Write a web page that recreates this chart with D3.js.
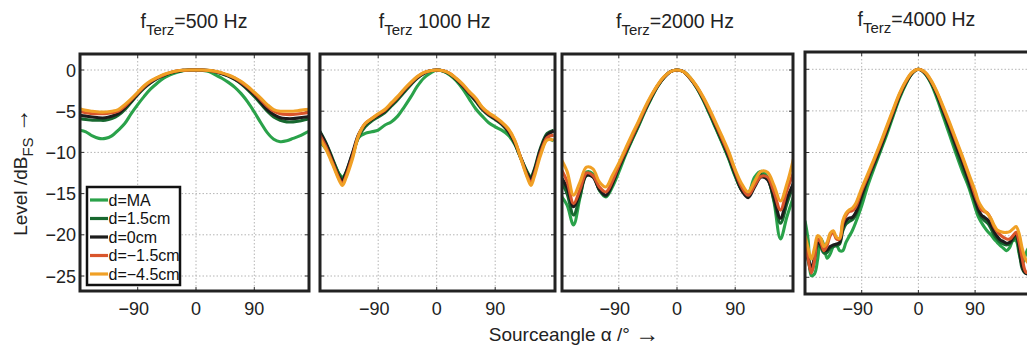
<!DOCTYPE html>
<html>
<head>
<meta charset="utf-8">
<style>
    body { margin: 0; background: #fff; }
    svg { display: block; font-family: "Liberation Sans", Arial, sans-serif; }
    .grid line { stroke: #b4b4b4; stroke-width: 1; stroke-dasharray: 1.5 2; }
    .frame { fill: none; stroke: #222; stroke-width: 3; }
    .tick-mark { stroke: #333; stroke-width: 1; }
    .tick-label { font-size: 18px; fill: #222; }
    .title { font-size: 19.5px; fill: #222; }
    .axis-title { font-size: 19px; fill: #222; }
    .legend text { font-size: 16px; fill: #111; }
</style>
</head>
<body>
<svg width="1027" height="350"></svg>
<script src="https://d3js.org/d3.v7.min.js"></script>
<script>
// ---------- data ----------
const seriesNames = ["d=MA", "d=1.5cm", "d=0cm", "d=\u22121.5cm", "d=\u22124.5cm"];
const xTicks = [-90, 0, 90];
const yTicks = [0, -5, -10, -15, -20, -25];

// 500 Hz
const angles500 = [-180,-170,-160,-150,-140,-130,-120,-110,-100,-90,-80,-70,-60,-50,-40,-30,-20,-10,0,
                   10,20,30,40,50,60,70,80,90,100,110,120,130,140,150,160,170,180];
const lev500MA  = [-7.3,-7.5,-8.0,-8.3,-8.3,-8.0,-7.3,-6.5,-5.3,-4.2,-3.2,-2.3,-1.6,-1.0,-0.6,-0.3,-0.1,0,0,
                   -0.05,-0.2,-0.6,-1.0,-1.5,-2.1,-2.9,-3.9,-5.1,-6.4,-7.6,-8.4,-8.7,-8.6,-8.3,-8.0,-7.6,-7.3];
const lev500P15 = [-5.9,-6.0,-6.1,-6.1,-6.1,-5.9,-5.5,-4.8,-3.9,-3.0,-2.2,-1.55,-1.05,-0.7,-0.4,-0.17,-0.05,0,0,
                   0,-0.08,-0.22,-0.45,-0.75,-1.15,-1.7,-2.4,-3.2,-4.1,-5.0,-5.7,-6.1,-6.3,-6.3,-6.2,-6.0,-5.9];
const lev500D0  = [-5.5,-5.6,-5.7,-5.8,-5.8,-5.6,-5.3,-4.6,-3.8,-2.9,-2.1,-1.5,-1.0,-0.65,-0.35,-0.15,-0.05,0,0,
                   0,-0.07,-0.2,-0.42,-0.7,-1.1,-1.6,-2.3,-3.0,-3.9,-4.8,-5.4,-5.8,-5.9,-5.9,-5.8,-5.7,-5.6];
const lev500M15 = [-5.0,-5.2,-5.3,-5.3,-5.3,-5.2,-5.0,-4.4,-3.6,-2.8,-2.0,-1.4,-0.95,-0.6,-0.32,-0.13,-0.04,0,0,
                   0,-0.06,-0.17,-0.38,-0.65,-1.0,-1.5,-2.1,-2.8,-3.6,-4.4,-5.0,-5.3,-5.4,-5.4,-5.3,-5.2,-5.1];
const lev500M45 = [-4.7,-4.9,-5.0,-5.1,-5.1,-5.0,-4.8,-4.2,-3.5,-2.7,-1.9,-1.3,-0.9,-0.55,-0.3,-0.12,-0.03,0,0,
                   0,-0.05,-0.15,-0.35,-0.6,-0.95,-1.4,-2.0,-2.7,-3.4,-4.2,-4.8,-5.0,-5.0,-5.0,-4.9,-4.8,-4.7];

// 1000 Hz
const angles1000 = [-180,-170,-160,-150,-145,-140,-130,-120,-110,-100,-90,-80,-70,-60,-50,-40,-30,-20,-10,0,
                    10,20,30,40,50,60,70,80,90,100,110,120,130,140,145,150,160,170,180];
const lev1000MA  = [-8.7,-9.6,-11.0,-12.6,-13.0,-12.6,-10.6,-8.2,-7.7,-7.5,-7.3,-6.7,-6.3,-5.6,-4.5,-3.3,-2.0,-1.0,-0.4,0,
                    -0.15,-0.6,-1.3,-2.3,-3.5,-4.7,-5.6,-6.4,-6.9,-7.3,-7.9,-9.0,-10.8,-12.5,-13.0,-12.3,-10.0,-8.4,-8.6];
const lev1000P15 = [-7.4,-8.9,-10.8,-12.7,-13.2,-12.5,-10.3,-8.1,-6.9,-6.2,-5.7,-5.2,-4.4,-3.6,-2.7,-1.8,-1.0,-0.45,-0.1,0,
                    -0.12,-0.5,-1.2,-2.0,-2.9,-3.8,-4.8,-5.5,-6.0,-6.6,-7.5,-8.9,-10.8,-12.5,-13.0,-12.1,-9.4,-7.7,-7.3];
const lev1000D0  = [-7.5,-9.0,-11.0,-13.0,-13.4,-12.6,-10.2,-7.8,-6.6,-6.0,-5.5,-5.0,-4.2,-3.4,-2.5,-1.7,-0.95,-0.4,-0.1,0,
                    -0.1,-0.45,-1.1,-1.9,-2.8,-3.7,-4.7,-5.4,-5.9,-6.5,-7.4,-8.8,-10.8,-12.7,-13.2,-12.3,-9.6,-7.9,-7.4];
const lev1000M15 = [-7.9,-9.4,-11.3,-13.2,-13.8,-13.0,-10.6,-7.9,-6.5,-5.9,-5.4,-4.9,-4.1,-3.3,-2.4,-1.6,-0.85,-0.35,-0.1,0,
                    -0.1,-0.4,-1.05,-1.8,-2.7,-3.5,-4.6,-5.3,-5.8,-6.4,-7.2,-8.6,-10.8,-13.0,-13.7,-12.7,-10.0,-8.2,-7.9];
const lev1000M45 = [-8.3,-9.7,-11.5,-13.4,-14.0,-13.2,-10.9,-7.9,-6.5,-5.9,-5.3,-4.8,-4.0,-3.2,-2.3,-1.5,-0.8,-0.3,-0.1,0,
                    -0.1,-0.4,-1.0,-1.7,-2.6,-3.4,-4.5,-5.2,-5.7,-6.3,-7.1,-8.5,-10.9,-13.2,-14.0,-13.0,-10.3,-8.5,-8.5];

// 2000 Hz
const angles2000 = [-180,-170,-160,-150,-140,-130,-120,-110,-100,-90,-80,-70,-60,-50,-40,-30,-20,-10,0,
                    10,20,30,40,50,60,70,80,90,100,110,120,130,140,150,160,170,180];
const lev2000MA  = [-15.2,-16.4,-18.8,-15.5,-12.4,-12.6,-14.6,-15.4,-14.2,-12.4,-10.4,-8.6,-6.9,-5.1,-3.5,-2.0,-0.9,-0.2,0,
                    -0.2,-0.9,-2.1,-3.6,-5.3,-7.1,-8.9,-10.8,-12.9,-14.5,-14.9,-13.0,-12.3,-13.0,-16.0,-20.5,-17.8,-15.4];
const lev2000P15 = [-13.4,-15.0,-17.6,-15.3,-12.8,-12.9,-14.5,-15.3,-13.9,-12.0,-10.2,-8.5,-6.8,-5.0,-3.4,-2.0,-0.9,-0.2,0,
                    -0.2,-1.0,-2.1,-3.5,-5.2,-7.0,-8.8,-10.7,-12.8,-14.6,-15.3,-13.6,-12.7,-13.2,-15.8,-18.6,-16.2,-13.8];
const lev2000D0  = [-12.9,-14.3,-16.6,-14.8,-12.8,-13.0,-14.5,-15.2,-13.8,-11.8,-10.1,-8.3,-6.6,-4.9,-3.3,-1.9,-0.9,-0.2,0,
                    -0.2,-1.0,-2.0,-3.4,-5.0,-6.8,-8.6,-10.5,-12.6,-14.6,-15.5,-14.2,-13.0,-13.3,-15.5,-18.0,-15.6,-13.8];
const lev2000M15 = [-11.9,-13.5,-16.2,-14.5,-12.5,-12.8,-14.2,-14.8,-13.5,-11.6,-9.9,-8.2,-6.5,-4.8,-3.2,-1.9,-0.85,-0.2,0,
                    -0.2,-0.95,-2.0,-3.3,-4.9,-6.6,-8.4,-10.2,-12.3,-14.2,-15.2,-14.0,-12.9,-13.0,-14.8,-17.0,-14.6,-12.5];
const lev2000M45 = [-10.7,-12.3,-15.2,-13.6,-11.8,-12.0,-13.6,-14.2,-12.8,-11.3,-9.6,-7.9,-6.3,-4.6,-3.1,-1.8,-0.8,-0.2,0,
                    -0.2,-0.9,-1.9,-3.2,-4.7,-6.4,-8.1,-9.9,-12.1,-13.8,-14.8,-13.5,-12.3,-12.4,-14.0,-15.9,-13.8,-10.8];

// 4000 Hz
const angles4000 = [-180,-175,-170,-165,-160,-155,-150,-145,-140,-135,-130,-125,-120,-115,-110,-105,-100,
                    -90,-80,-70,-60,-50,-40,-30,-20,-10,0,10,20,30,40,50,60,70,80,
                    90,95,100,105,110,115,120,125,130,135,140,145,150,155,160,165,170,175,180];
const lev4000MA  = [-18.2,-20.5,-24.8,-24.6,-22.9,-20.3,-21.2,-22.7,-22.2,-21.3,-21.1,-21.8,-21.8,-20.8,-20.1,-19.4,-18.5,
                    -16.4,-13.9,-11.8,-9.8,-7.8,-5.6,-3.5,-1.8,-0.5,0,-0.5,-1.7,-3.6,-5.8,-8.0,-10.2,-12.3,-14.2,
                    -16.6,-17.7,-18.4,-19.0,-19.5,-19.9,-20.4,-20.8,-21.2,-21.5,-21.8,-21.4,-20.6,-20.6,-22.2,-23.4,-22.3,-21.5,-21.8];
const lev4000P15 = [-21.5,-23.0,-24.4,-23.0,-21.2,-21.4,-22.1,-22.0,-21.5,-21.3,-21.2,-21.0,-19.4,-18.6,-18.3,-18.1,-17.6,
                    -15.5,-13.3,-11.5,-9.6,-7.5,-5.4,-3.3,-1.7,-0.5,0,-0.45,-1.6,-3.3,-5.4,-7.5,-9.7,-11.8,-13.8,
                    -16.0,-17.1,-17.8,-18.2,-18.5,-19.1,-19.9,-20.4,-20.8,-21.0,-21.1,-21.0,-20.5,-20.2,-21.9,-24.0,-24.5,-24.3,-24.0];
const lev4000D0  = [-21.2,-22.6,-23.9,-22.6,-20.9,-21.1,-21.8,-21.7,-21.3,-21.1,-21.0,-20.8,-19.0,-18.2,-17.9,-17.8,-17.3,
                    -15.1,-13.0,-11.2,-9.3,-7.3,-5.2,-3.2,-1.6,-0.45,0,-0.4,-1.5,-3.1,-5.1,-7.1,-9.2,-11.2,-13.4,
                    -15.7,-16.8,-17.5,-17.8,-18.1,-18.7,-19.5,-20.1,-20.5,-20.7,-20.9,-20.8,-20.2,-19.8,-21.5,-23.7,-24.5,-24.6,-24.5];
const lev4000M15 = [-20.8,-22.8,-24.5,-23.0,-20.4,-20.8,-21.8,-21.2,-20.0,-19.6,-20.4,-20.4,-18.5,-17.6,-17.1,-17.0,-16.6,
                    -14.6,-12.8,-10.9,-9.0,-7.0,-5.0,-3.0,-1.5,-0.4,0,-0.35,-1.4,-2.9,-4.8,-6.7,-8.7,-10.7,-12.8,
                    -15.1,-16.1,-16.9,-17.1,-17.3,-18.0,-18.9,-19.5,-19.9,-20.2,-20.4,-20.4,-20.0,-19.6,-20.8,-22.8,-24.3,-24.5,-24.4];
const lev4000M45 = [-20.0,-21.5,-22.8,-21.5,-20.0,-20.3,-21.3,-20.8,-19.7,-19.4,-20.2,-20.3,-18.2,-17.3,-16.9,-16.7,-16.2,
                    -14.3,-12.5,-10.7,-8.8,-6.8,-4.8,-2.9,-1.4,-0.35,0,-0.3,-1.3,-2.8,-4.6,-6.5,-8.5,-10.5,-12.6,
                    -14.6,-15.8,-16.5,-17.0,-17.4,-17.9,-18.7,-19.3,-19.5,-19.6,-19.6,-19.5,-19.2,-18.9,-19.8,-21.6,-22.8,-23.3,-23.2];

// ---------- styles / layout ----------
const colors = ["#2aa24a", "#17682f", "#1c1c1c", "#d9552b", "#f0a025"];

const panels = [
    { pre: "f", sub: "Terz", post: "=500 Hz",  angles: angles500,  levels: [lev500MA, lev500P15, lev500D0, lev500M15, lev500M45],
      left: 80, right: 309, top: 54, bottom: 291, x0: 196, d90: 58.3, y0: 70, y25: 276, titleY: 28 },
    { pre: "f", sub: "Terz", post: " 1000 Hz", angles: angles1000, levels: [lev1000MA, lev1000P15, lev1000D0, lev1000M15, lev1000M45],
      left: 320, right: 555, top: 54, bottom: 291, x0: 436.7, d90: 58.5, y0: 70, y25: 276, titleY: 28 },
    { pre: "f", sub: "Terz", post: "=2000 Hz", angles: angles2000, levels: [lev2000MA, lev2000P15, lev2000D0, lev2000M15, lev2000M45],
      left: 562, right: 793, top: 54, bottom: 291, x0: 677, d90: 58.2, y0: 70, y25: 276, titleY: 28 },
    { pre: "f", sub: "Terz", post: "=4000 Hz", angles: angles4000, levels: [lev4000MA, lev4000P15, lev4000D0, lev4000M15, lev4000M45],
      left: 805, right: 1034, top: 52, bottom: 294, x0: 918.4, d90: 56.7, y0: 69.3, y25: 277.3, titleY: 26 }
];

const svg = d3.select("svg");

panels.forEach(function (p, i) {
    let x = d3.scaleLinear().domain([-90, 90]).range([p.x0 - p.d90, p.x0 + p.d90]);
    let y = d3.scaleLinear().domain([-25, 0]).range([p.y25, p.y0]);

    let g = svg.append("g");

    svg.append("clipPath").attr("id", "clip" + i)
        .append("rect")
        .attr("x", p.left).attr("y", p.top)
        .attr("width", p.right - p.left).attr("height", p.bottom - p.top);

    // dotted grid
    let grid = g.append("g").attr("class", "grid").attr("clip-path", `url(#clip${i})`);
    grid.selectAll(".gx").data(xTicks).join("line")
        .attr("x1", d => x(d)).attr("x2", d => x(d))
        .attr("y1", p.top).attr("y2", p.bottom);
    grid.selectAll(".gy").data(yTicks).join("line")
        .attr("class", "gy")
        .attr("x1", p.left).attr("x2", p.right)
        .attr("y1", d => y(d)).attr("y2", d => y(d));

    // inward tick marks
    let tk = g.append("g");
    xTicks.forEach(function (t) {
        tk.append("line").attr("class", "tick-mark")
            .attr("x1", x(t)).attr("x2", x(t)).attr("y1", p.top).attr("y2", p.top + 4);
        tk.append("line").attr("class", "tick-mark")
            .attr("x1", x(t)).attr("x2", x(t)).attr("y1", p.bottom).attr("y2", p.bottom - 4);
    });
    yTicks.forEach(function (t) {
        tk.append("line").attr("class", "tick-mark")
            .attr("x1", p.left).attr("x2", p.left + 4).attr("y1", y(t)).attr("y2", y(t));
        tk.append("line").attr("class", "tick-mark")
            .attr("x1", p.right).attr("x2", p.right - 4).attr("y1", y(t)).attr("y2", y(t));
    });

    // curves
    let line = d3.line()
        .x(d => x(d[0]))
        .y(d => y(d[1]))
        .curve(d3.curveCatmullRom.alpha(0.5));

    g.append("g").attr("clip-path", `url(#clip${i})`)
        .selectAll("path")
        .data(p.levels.map((lv, k) => ({ k: k, pts: p.angles.map((a, j) => [a, lv[j]]) })))
        .join("path")
        .attr("fill", "none")
        .attr("stroke", d => colors[d.k])
        .attr("stroke-width", 3.1)
        .attr("stroke-linejoin", "round")
        .attr("d", d => line(d.pts));

    // frame
    g.append("rect").attr("class", "frame")
        .attr("x", p.left).attr("y", p.top)
        .attr("width", p.right - p.left).attr("height", p.bottom - p.top);

    // x tick labels
    g.selectAll(".xl").data(xTicks).join("text")
        .attr("class", "tick-label")
        .attr("x", d => x(d) - (d < 0 ? 4 : 0))
        .attr("y", 315)
        .attr("text-anchor", "middle")
        .text(d => d < 0 ? "\u2212" + Math.abs(d) : d);

    // y tick labels on the first panel only
    if (i === 0) {
        g.selectAll(".yl").data(yTicks).join("text")
            .attr("class", "tick-label")
            .attr("x", 76)
            .attr("y", d => y(d) + 6.5)
            .attr("text-anchor", "end")
            .text(d => d < 0 ? "\u2212" + Math.abs(d) : d);
    }

    // title
    let t = svg.append("text").attr("class", "title")
        .attr("x", p.x0 - 2).attr("y", p.titleY)
        .attr("text-anchor", "middle");
    t.append("tspan").text(p.pre);
    t.append("tspan").attr("dy", 7).attr("font-size", 15).text(p.sub);
    t.append("tspan").attr("dy", -7).text(p.post);
});

// legend in the first panel
let lg = svg.append("g").attr("class", "legend");
lg.append("rect")
    .attr("x", 87).attr("y", 187).attr("width", 93).attr("height", 98)
    .attr("fill", "#fff").attr("stroke", "#111").attr("stroke-width", 2.5);
svg.append("clipPath").attr("id", "lgclip")
    .append("rect").attr("x", 88).attr("y", 188).attr("width", 91).attr("height", 96);
let lgItems = lg.append("g").attr("clip-path", "url(#lgclip)")
    .selectAll("g").data(seriesNames).join("g")
    .attr("transform", (d, k) => `translate(0,${200 + k * 18.5})`);
lgItems.append("line")
    .attr("x1", 90).attr("x2", 108).attr("y1", 0).attr("y2", 0)
    .attr("stroke", (d, k) => colors[k]).attr("stroke-width", 3.2);
lgItems.append("text")
    .attr("x", 108.5).attr("y", 5.8)
    .text(d => d);

// axis titles
let yl = svg.append("text").attr("class", "axis-title")
    .attr("transform", "translate(27,172) rotate(-90)")
    .attr("text-anchor", "middle");
yl.append("tspan").text("Level /dB");
yl.append("tspan").attr("dy", 6).attr("font-size", 15).text("FS");
yl.append("tspan").attr("dy", -6).text(" ");
yl.append("tspan").attr("font-size", 24).attr("dy", 1).text("\u2192");

let xl = svg.append("text").attr("class", "axis-title")
    .attr("x", 574).attr("y", 341)
    .attr("text-anchor", "middle");
xl.append("tspan").text("Sourceangle \u03b1 /\u00b0 ");
xl.append("tspan").attr("font-size", 24).attr("dy", 1).text("\u2192");
</script>
</body>
</html>
